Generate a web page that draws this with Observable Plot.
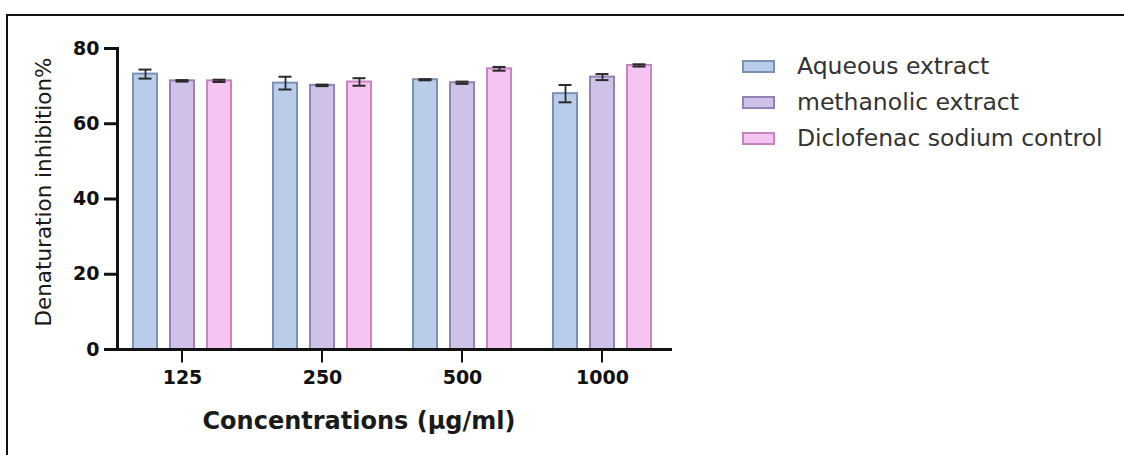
<!DOCTYPE html>
<html>
<head>
<meta charset="utf-8">
<script src="https://cdn.jsdelivr.net/npm/d3@7"></script>
<script src="https://cdn.jsdelivr.net/npm/@observablehq/plot@0.6"></script>
<style>
  html, body { margin: 0; padding: 0; background: #fff; }
  #wrap { position: relative; width: 1124px; height: 455px; overflow: hidden; background: #fff; }
  #chart { position: absolute; left: 0; top: 0; }
  #chart svg { overflow: visible; }
  #border { position: absolute; left: 6px; top: 14px; width: 1300px; height: 600px;
            border-left: 2.5px solid #111; border-top: 2.5px solid #111; pointer-events: none; }
  #ytitle { position: absolute; left: 43px; top: 192px; transform: translate(-50%, -50%) rotate(-90deg);
            white-space: nowrap; font-family: "DejaVu Sans", sans-serif; font-size: 21.5px; color: #1a1a1a; }
  #xtitle { position: absolute; left: 359px; top: 421px; transform: translate(-50%, -50%);
            white-space: nowrap; font-family: "DejaVu Sans", sans-serif; font-weight: bold; font-size: 24px; color: #1a1a1a; }
  #legend { position: absolute; left: 742px; top: 48px; font-family: "DejaVu Sans", sans-serif; font-size: 23.5px; color: #333; }
  .row { display: flex; align-items: center; height: 36px; }
  .sw { width: 29px; height: 9px; border: 2px solid; margin-right: 22px; }
</style>
</head>
<body>
<div id="wrap">
  <div id="chart"></div>
  <div id="ytitle"></div>
  <div id="xtitle"></div>
  <div id="legend"></div>
  <div id="border"></div>
</div>
<script>
// ---- data ----
const concentrations = ["125", "250", "500", "1000"];
const seriesNames = ["Aqueous extract", "methanolic extract", "Diclofenac sodium control"];
const aqueous = [73.2, 70.8, 71.7, 68.0];
const aqueousErr = [1.2, 1.7, 0.15, 2.3];
const methanolic = [71.4, 70.2, 70.9, 72.4];
const methanolicErr = [0.2, 0.2, 0.3, 0.8];
const diclofenac = [71.4, 71.1, 74.6, 75.5];
const diclofenacErr = [0.3, 1.0, 0.5, 0.3];
const yTicks = [0, 20, 40, 60, 80];
const fills = ["#b9cce9", "#cfc2e8", "#f6c4f0"];
const strokes = ["#7a91b6", "#9581b6", "#c585c0"];
const xTitle = "Concentrations (\u00b5g/ml)";
const yTitle = "Denaturation inhibition%";

const values = [aqueous, methanolic, diclofenac];
const errs = [aqueousErr, methanolicErr, diclofenacErr];
const rows = [];
concentrations.forEach((c, i) => {
  seriesNames.forEach((s, j) => {
    rows.push({conc: c, series: s, value: values[j][i], err: errs[j][i], fill: fills[j], stroke: strokes[j]});
  });
});
const baseline = concentrations.map(c => ({conc: c, y: 0, mid: seriesNames[1]}));
const tickLen = 3.45; // length of the group tick marks below the axis, in y units

const chart = Plot.plot({
  width: 700,
  height: 455,
  marginLeft: 117,
  marginRight: 33,
  marginTop: 48,
  marginBottom: 106,
  style: {fontFamily: "DejaVu Sans, sans-serif", fontSize: "19px", fontWeight: "bold", color: "#111", background: "transparent", overflow: "visible"},
  fx: {domain: concentrations, paddingInner: 10 / 140, paddingOuter: 0, label: null, axis: null},
  x: {domain: seriesNames, axis: null, paddingInner: 0.342, paddingOuter: 0.382},
  y: {domain: [0, 80], axis: null},
  color: {type: "identity"},
  marks: [
    Plot.barY(rows, {fx: "conc", x: "series", y: "value", fill: "fill", stroke: "stroke", strokeWidth: 2}),
    Plot.ruleX(rows, {fx: "conc", x: "series", y1: d => d.value - d.err, y2: d => d.value + d.err, stroke: "#2a2a2a", strokeWidth: 1.8}),
    Plot.tickY(rows, {fx: "conc", x: "series", y: d => d.value + d.err, stroke: "#2a2a2a", strokeWidth: 2, insetLeft: 5.5, insetRight: 5.5}),
    Plot.tickY(rows, {fx: "conc", x: "series", y: d => d.value - d.err, stroke: "#2a2a2a", strokeWidth: 2, insetLeft: 5.5, insetRight: 5.5}),
    // group tick marks below the baseline: a short, thick tick centred on the middle bar of each group
    Plot.tickY(baseline, {fx: "conc", x: "mid", y: d => d.y - tickLen / 2, stroke: "#111", strokeWidth: 13, insetLeft: 11, insetRight: 11}),
    Plot.ruleY(baseline, {fx: "conc", y: "y", stroke: "#111", strokeWidth: 3, insetLeft: -5, insetRight: -5}),
    Plot.frame({anchor: "left", facetAnchor: "left", stroke: "#111", strokeWidth: 3}),
    Plot.axisY({ticks: yTicks, tickSize: 13, tickPadding: 5, strokeWidth: 3, label: null, tickFormat: d => d}),
    Plot.axisFx({anchor: "bottom", tickSize: 0, tickPadding: 21, label: null})
  ]
});
document.getElementById("chart").appendChild(chart);

document.getElementById("ytitle").textContent = yTitle;
document.getElementById("xtitle").textContent = xTitle;
const legend = document.getElementById("legend");
seriesNames.forEach((s, j) => {
  const row = document.createElement("div");
  row.className = "row";
  const sw = document.createElement("div");
  sw.className = "sw";
  sw.style.background = fills[j];
  sw.style.borderColor = strokes[j];
  const t = document.createElement("span");
  t.textContent = s;
  row.appendChild(sw);
  row.appendChild(t);
  legend.appendChild(row);
});
</script>
</body>
</html>
